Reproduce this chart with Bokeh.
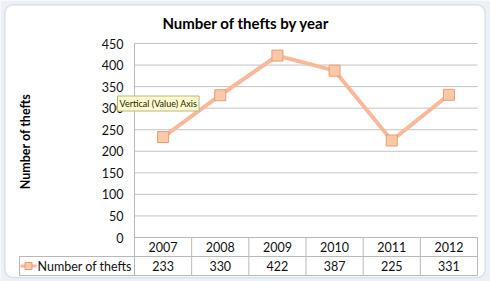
from bokeh.plotting import figure
from bokeh.models import Label, BoxAnnotation
from bokeh.core.properties import value
from bokeh.embed import file_html
from bokeh.resources import INLINE

# ---- data ----
years = ["2007", "2008", "2009", "2010", "2011", "2012"]
thefts = [233, 330, 422, 387, 225, 331]
y_ticks = [0, 50, 100, 150, 200, 250, 300, 350, 400, 450]
series_name = "Number of thefts"
chart_title = "Number of thefts by year"
tooltip_text = "Vertical (Value) Axis"

FONT = "Lato"
LINE_COL = "#f9b899"
MARK_FILL = "#fcc9a6"
MARK_LINE = "#e79d78"
GRID_COL = "#c4c4c4"
TABLE_COL = "#b9b9b9"

# screen mapping: x: 134px -> 0, 477px -> 6 ; y: 237px -> 0, 43px -> 450
W, H = 490, 281
kx = (477 - 134) / 6.0
ky = (237 - 43) / 450.0


def sx(px):
    return (px - 134) / kx


def sy(py):
    return (237 - py) / ky


x_lo, x_hi = sx(0), sx(W)
y_lo, y_hi = sy(H), sy(0)

p = figure(width=W, height=H, x_range=(x_lo, x_hi), y_range=(y_lo, y_hi),
           output_backend="svg", toolbar_location=None,
           x_axis_location=None, y_axis_location=None,
           min_border=0, outline_line_color=None,
           background_fill_color="#edf1f6", border_fill_color="#edf1f6")
p.xgrid.visible = False
p.ygrid.visible = False

# chart area (rounded white box)
p.add_layout(BoxAnnotation(left=sx(4.5), right=sx(484.5), top=sy(4.5), bottom=sy(277),
                           fill_color="white", fill_alpha=1.0,
                           line_color="#8fb0d8", line_width=1.5, border_radius=8,
                           level="underlay"))

n = len(years)
xc = [i + 0.5 for i in range(n)]

# gridlines
p.segment(x0=[0] * len(y_ticks), x1=[n] * len(y_ticks), y0=y_ticks, y1=y_ticks,
          line_color=GRID_COL, line_width=1)
# vertical axis line
p.segment(x0=[0], x1=[0], y0=[y_ticks[-1]], y1=[sy(275)], line_color=TABLE_COL, line_width=1)

# y tick labels
p.text(x=[sx(123)] * len(y_ticks), y=y_ticks, text=[str(t) for t in y_ticks],
       text_font=value(FONT), text_font_size="12.5px", text_color="#111111",
       text_align="right", text_baseline="middle")

# data table
row1 = sy(256)
row2 = sy(275)
p.segment(x0=[sx(19), sx(19)], x1=[n, n], y0=[row1, row2], y1=[row1, row2],
          line_color=TABLE_COL, line_width=1)
p.segment(x0=[0], x1=[n], y0=[0], y1=[0], line_color=TABLE_COL, line_width=1)
p.segment(x0=list(range(1, n + 1)), x1=list(range(1, n + 1)),
          y0=[0] * n, y1=[row2] * n, line_color=TABLE_COL, line_width=1)
p.segment(x0=[sx(19)], x1=[sx(19)], y0=[row1], y1=[row2], line_color=TABLE_COL, line_width=1)

p.text(x=xc, y=[(0 + row1) / 2] * n, text=years, text_font=value(FONT),
       text_font_size="12.5px", text_color="#111111", text_align="center",
       text_baseline="middle")
p.text(x=xc, y=[(row1 + row2) / 2] * n, text=[str(v) for v in thefts],
       text_font=value(FONT), text_font_size="12.5px", text_color="#111111",
       text_align="center", text_baseline="middle")

# legend key in table
mid2 = (row1 + row2) / 2
p.segment(x0=[sx(20)], x1=[sx(36)], y0=[mid2], y1=[mid2], line_color=LINE_COL, line_width=3)
p.scatter(x=[sx(28)], y=[mid2], marker="square", size=7, fill_color=MARK_FILL,
          line_color=MARK_LINE, line_width=1)
p.text(x=[sx(37)], y=[mid2], text=[series_name], text_font=value(FONT),
       text_font_size="12.5px", text_color="#111111", text_align="left",
       text_baseline="middle")

# series
p.line(x=xc, y=thefts, line_color=LINE_COL, line_width=4)
p.scatter(x=xc, y=thefts, marker="square", size=11, fill_color=MARK_FILL,
          line_color=MARK_LINE, line_width=1)

# title
p.add_layout(Label(x=sx(245.5), y=sy(22), text=chart_title, text_font=FONT,
                   text_font_size="15px", text_font_style="bold",
                   text_align="center", text_baseline="middle", text_color="#000000"))
# y-axis title
p.add_layout(Label(x=sx(25), y=sy(141), text=series_name, text_font=FONT,
                   text_font_size="12.5px", text_font_style="bold", angle=1.5708,
                   text_align="center", text_baseline="middle", text_color="#000000"))

# tooltip
p.add_layout(Label(x=sx(117), y=sy(103), text=tooltip_text, text_font=FONT,
                   text_font_size="9px", text_align="left", text_baseline="middle",
                   text_color="#222222", background_fill_color="#fdfbc8",
                   background_fill_alpha=1.0, border_line_color="#b8b48a",
                   padding=2))

open("out.html", "w").write(file_html(p, INLINE))
